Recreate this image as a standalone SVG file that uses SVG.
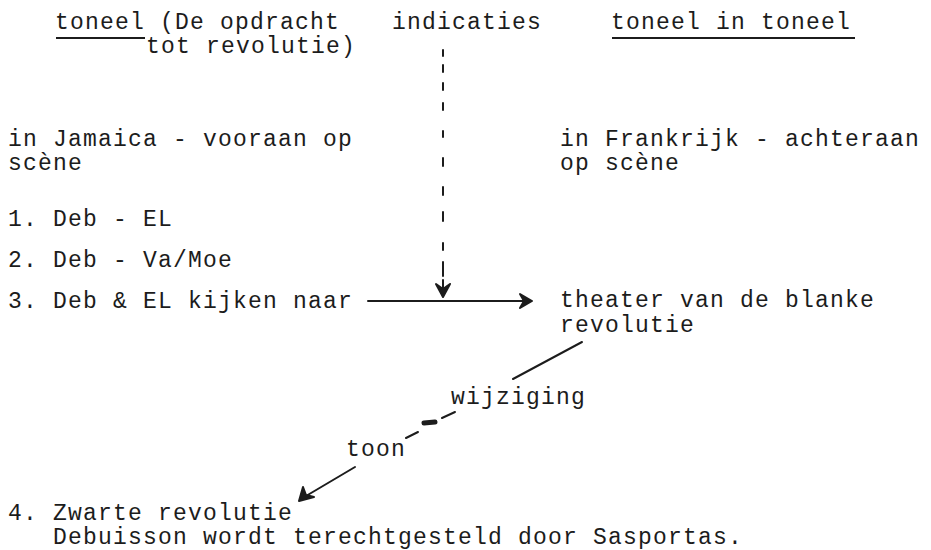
<svg xmlns="http://www.w3.org/2000/svg" width="931" height="550" viewBox="0 0 931 550">
<style>
text{font-family:"Courier New","Nimbus Mono PS","FreeMono","Liberation Mono","DejaVu Sans Mono",monospace;font-size:23px;letter-spacing:1.2px;fill:#1c1c1c}
.ln{stroke:#1c1c1c;stroke-width:2;fill:none;stroke-linecap:round}
.ul{stroke:#1c1c1c;stroke-width:2.2}
.head{fill:#1c1c1c;stroke:#1c1c1c;stroke-width:2;stroke-linejoin:round}
</style>
<rect width="931" height="550" fill="#ffffff"/>
<g id="header-left">
<text x="55" y="29">toneel (De opdracht</text>
<text x="146" y="53">tot revolutie)</text>
<line class="ul" x1="56" y1="38" x2="145" y2="38"/>
</g>
<g id="header-mid">
<text x="392" y="29">indicaties</text>
</g>
<g id="header-right">
<text x="611" y="29">toneel in toneel</text>
<line class="ul" x1="612" y1="38" x2="855" y2="38"/>
</g>
<g id="jamaica">
<text x="8" y="146">in Jamaica - vooraan op</text>
<text x="8" y="170">scène</text>
</g>
<g id="frankrijk">
<text x="560" y="146">in Frankrijk - achteraan</text>
<text x="560" y="170">op scène</text>
</g>
<g id="items">
<text x="8" y="226">1. Deb - EL</text>
<text x="8" y="267">2. Deb - Va/Moe</text>
<text x="8" y="308">3. Deb &amp; EL kijken naar</text>
</g>
<g id="theater">
<text x="560" y="307">theater van de blanke</text>
<text x="560" y="332">revolutie</text>
</g>
<g id="wijziging">
<text x="451" y="404">wijziging</text>
</g>
<g id="toon">
<text x="346" y="456">toon</text>
</g>
<g id="zwarte">
<text x="8" y="520">4. Zwarte revolutie</text>
<text x="53" y="544">Debuisson wordt terechtgesteld door Sasportas.</text>
</g>
<g id="connectors">
<path class="ln" d="M443 50 V56 M443 65 V72 M443 83 V90 M443 103 V110 M443 131 V137 M443 158 V166 M443 187 V195 M443 212 V221 M443 243 V250 M443 262 V276 M443 280 V288"/>
<path class="head" d="M436 284 L443 297 L450 284 L443 289 Z"/>
<line class="ln" x1="368" y1="301" x2="528" y2="301"/>
<path class="head" d="M520 294 L532 301 L520 308 L524 301 Z"/>
<line class="ln" x1="355" y1="467" x2="306" y2="496"/>
<path class="head" d="M299 501 L303 487 L306 495 L314 497 Z"/>
<line class="ln" x1="582" y1="342" x2="513" y2="379"/>
<path class="ln" d="M406 438 L418 432 M442 418 L455 412"/>
<line x1="424" y1="423" x2="435" y2="422" stroke="#1c1c1c" stroke-width="5" stroke-linecap="round"/>
</g>
</svg>
